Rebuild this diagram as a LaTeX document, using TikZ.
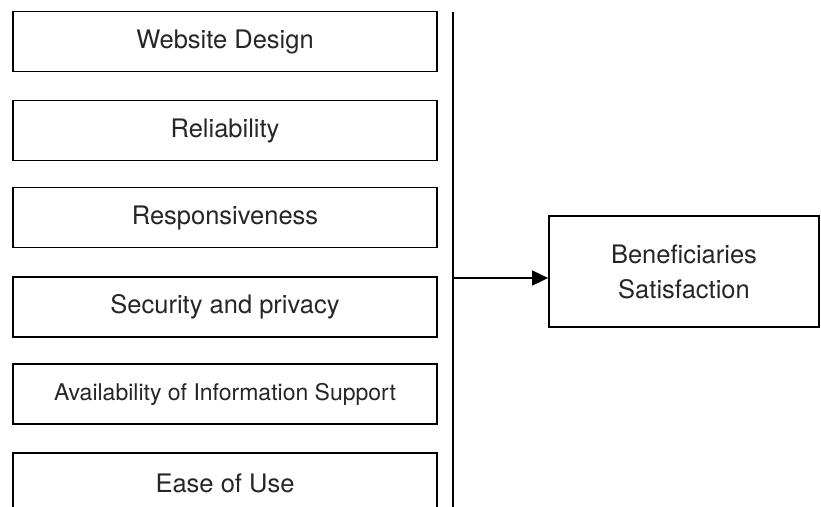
\documentclass[tikz,border=0pt]{standalone}
\usepackage{fontspec}
\setmainfont{TeX Gyre Heros}
\usetikzlibrary{arrows.meta}
\begin{document}
\begin{tikzpicture}[x=1pt,y=-1pt,
  factor/.style={draw=black, line width=1.8pt, minimum width=424pt, minimum height=60pt,
    inner sep=0pt, text=black!85, font=\fontsize{25.5}{35}\selectfont},
  outcome/.style={draw=black, line width=1.8pt, minimum width=270pt, minimum height=111pt,
    inner sep=0pt, text=black!85, align=center, font=\fontsize{25.5}{35}\selectfont},
  link/.style={line width=1.8pt, draw=black},
  arrowlink/.style={link, -{Triangle[length=16pt,width=15pt]}}]
\useasboundingbox (0,0) rectangle (821,506);
\clip (0,0) rectangle (821,506);
\node[factor] (f1) at (225,41.5) {Website Design};
\node[factor] (f2) at (225,130.5) {Reliability};
\node[factor] (f3) at (225,217.5) {Responsiveness};
\node[factor] (f4) at (225,307) {Security and privacy};
\node[factor, font=\fontsize{23}{28}\selectfont] (f5) at (225,394) {Availability of Information Support};
\node[factor] (f6) at (225,483) {Ease of Use};
\node[outcome] (sat) at (684,271.5) {Beneficiaries\\Satisfaction};
\coordinate (top) at (453,12);
\coordinate (bot) at (453,520);
\coordinate (j) at (453,278);
\draw[link] (top) -- (bot);
\draw[arrowlink] (j) -- (j -| sat.west);
\end{tikzpicture}
\end{document}
